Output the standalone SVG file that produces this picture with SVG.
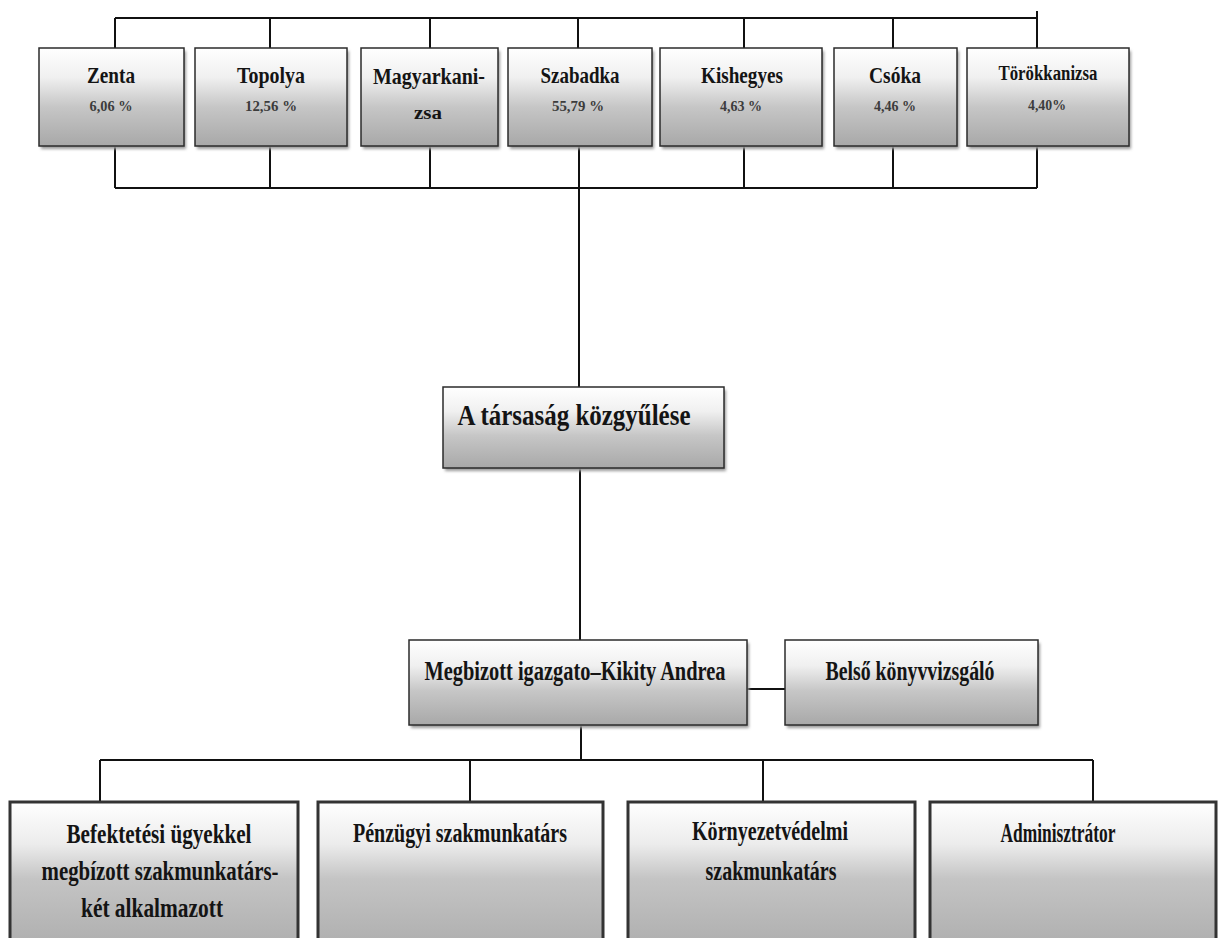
<svg xmlns="http://www.w3.org/2000/svg" width="1219" height="938" viewBox="0 0 1219 938">
<defs>
<linearGradient id="g" x1="0" y1="0" x2="0" y2="1">
<stop offset="0" stop-color="#ffffff"/>
<stop offset="0.3" stop-color="#f0f0f0"/>
<stop offset="0.6" stop-color="#c6c6c6"/>
<stop offset="1" stop-color="#a8a8a8"/>
</linearGradient>
<linearGradient id="g2" x1="0" y1="0" x2="0" y2="1">
<stop offset="0" stop-color="#ffffff"/>
<stop offset="0.3" stop-color="#ececec"/>
<stop offset="0.55" stop-color="#c4c4c4"/>
<stop offset="1" stop-color="#b0b0b0"/>
</linearGradient>
<filter id="sh" x="-5%" y="-5%" width="110%" height="120%">
<feGaussianBlur stdDeviation="1.5"/>
</filter>
</defs>
<style>
.box{fill:url(#g);stroke:#2b2b2b;stroke-width:1.5}
.box2{fill:url(#g2);stroke:#333;stroke-width:3}
.shd{fill:#9a9a9a;filter:url(#sh)}
.t{font-family:"Liberation Serif","Times New Roman",serif;font-weight:bold;fill:#141414;text-anchor:middle}
.p{font-family:"Liberation Serif","Times New Roman",serif;font-weight:bold;fill:#3c3c3c;font-size:15px;text-anchor:middle}
.c{stroke:#111;stroke-width:2;fill:none}
</style>
<rect width="1219" height="938" fill="#ffffff"/>

<g id="connectors">
<path class="c" d="M115,18 H1037 M1037,11 V48 M115,18 V48 M270,18 V48 M430,18 V48 M578,18 V48 M744,18 V48 M893,18 V48"/>
<path class="c" d="M115,188 H1037 M115,146 V188 M270,146 V188 M430,146 V188 M744,146 V188 M893,146 V188 M1037,146 V188"/>
<path class="c" d="M579,146 V387 M580,468 V640 M581,725 V760"/>
<path class="c" d="M747,689 H785"/>
<path class="c" d="M100,760 H1093 M100,760 V802 M470,760 V802 M763,760 V802 M1093,760 V802"/>
</g>

<g id="zenta">
<rect class="shd" x="41" y="51" width="145" height="98"/>
<rect class="box" x="39" y="48" width="145" height="98"/>
<text class="t" x="111" y="83" font-size="24" textLength="48" lengthAdjust="spacingAndGlyphs">Zenta</text>
<text class="p" x="111" y="111" textLength="43" lengthAdjust="spacingAndGlyphs">6,06 %</text>
</g>
<g id="topolya">
<rect class="shd" x="197" y="51" width="152" height="98"/>
<rect class="box" x="195" y="48" width="152" height="98"/>
<text class="t" x="271" y="83" font-size="24" textLength="68" lengthAdjust="spacingAndGlyphs">Topolya</text>
<text class="p" x="271" y="111" textLength="52" lengthAdjust="spacingAndGlyphs">12,56 %</text>
</g>
<g id="magyarkanizsa">
<rect class="shd" x="363" y="51" width="137" height="98"/>
<rect class="box" x="361" y="48" width="137" height="98"/>
<text class="t" x="429" y="84" font-size="24" textLength="112" lengthAdjust="spacingAndGlyphs">Magyarkani-</text>
<text class="t" x="428" y="119" font-size="18" textLength="28" lengthAdjust="spacingAndGlyphs">zsa</text>
</g>
<g id="szabadka">
<rect class="shd" x="510" y="51" width="144" height="98"/>
<rect class="box" x="508" y="48" width="144" height="98"/>
<text class="t" x="580" y="83" font-size="24" textLength="79" lengthAdjust="spacingAndGlyphs">Szabadka</text>
<text class="p" x="578" y="111" textLength="52" lengthAdjust="spacingAndGlyphs">55,79 %</text>
</g>
<g id="kishegyes">
<rect class="shd" x="662" y="51" width="162" height="98"/>
<rect class="box" x="660" y="48" width="162" height="98"/>
<text class="t" x="742" y="83" font-size="24" textLength="82" lengthAdjust="spacingAndGlyphs">Kishegyes</text>
<text class="p" x="741" y="111" textLength="42" lengthAdjust="spacingAndGlyphs">4,63 %</text>
</g>
<g id="csoka">
<rect class="shd" x="836" y="51" width="123" height="98"/>
<rect class="box" x="834" y="48" width="123" height="98"/>
<text class="t" x="895" y="83" font-size="24" textLength="52" lengthAdjust="spacingAndGlyphs">Csóka</text>
<text class="p" x="895" y="111" textLength="42" lengthAdjust="spacingAndGlyphs">4,46 %</text>
</g>
<g id="torokkanizsa">
<rect class="shd" x="969" y="51" width="162" height="98"/>
<rect class="box" x="967" y="48" width="162" height="98"/>
<text class="t" x="1048" y="80" font-size="20" textLength="99" lengthAdjust="spacingAndGlyphs">Törökkanizsa</text>
<text class="p" x="1047" y="110" textLength="38" lengthAdjust="spacingAndGlyphs">4,40%</text>
</g>

<g id="kozgyules">
<rect class="shd" x="445" y="390" width="281" height="81"/>
<rect class="box" x="443" y="387" width="281" height="81"/>
<text class="t" x="574" y="425" font-size="30" textLength="233" lengthAdjust="spacingAndGlyphs">A társaság közgyűlése</text>
</g>

<g id="igazgato">
<rect class="shd" x="411" y="643" width="338" height="85"/>
<rect class="box" x="409" y="640" width="338" height="85"/>
<text class="t" x="575" y="680" font-size="27" textLength="301" lengthAdjust="spacingAndGlyphs">Megbizott igazgato–Kikity  Andrea</text>
</g>
<g id="konyvvizsgalo">
<rect class="shd" x="787" y="643" width="253" height="85"/>
<rect class="box" x="785" y="640" width="253" height="85"/>
<text class="t" x="910" y="680" font-size="27" textLength="169" lengthAdjust="spacingAndGlyphs">Belső könyvvizsgáló</text>
</g>

<g id="befektetesi">
<rect class="box2" x="10" y="802" width="288" height="140"/>
<text class="t" x="159" y="843" font-size="27" textLength="185" lengthAdjust="spacingAndGlyphs">Befektetési ügyekkel</text>
<text class="t" x="160" y="880" font-size="27" textLength="237" lengthAdjust="spacingAndGlyphs">megbízott szakmunkatárs-</text>
<text class="t" x="152" y="917" font-size="27" textLength="142" lengthAdjust="spacingAndGlyphs">két alkalmazott</text>
</g>
<g id="penzugyi">
<rect class="box2" x="318" y="802" width="285" height="140"/>
<text class="t" x="460" y="842" font-size="27" textLength="214" lengthAdjust="spacingAndGlyphs">Pénzügyi szakmunkatárs</text>
</g>
<g id="kornyezetvedelmi">
<rect class="box2" x="628" y="802" width="287" height="140"/>
<text class="t" x="770" y="840" font-size="27" textLength="156" lengthAdjust="spacingAndGlyphs">Környezetvédelmi</text>
<text class="t" x="771" y="880" font-size="27" textLength="131" lengthAdjust="spacingAndGlyphs">szakmunkatárs</text>
</g>
<g id="adminisztrator">
<rect class="box2" x="930" y="802" width="286" height="140"/>
<text class="t" x="1058" y="842" font-size="27" textLength="115" lengthAdjust="spacingAndGlyphs">Adminisztrátor</text>
</g>
</svg>
